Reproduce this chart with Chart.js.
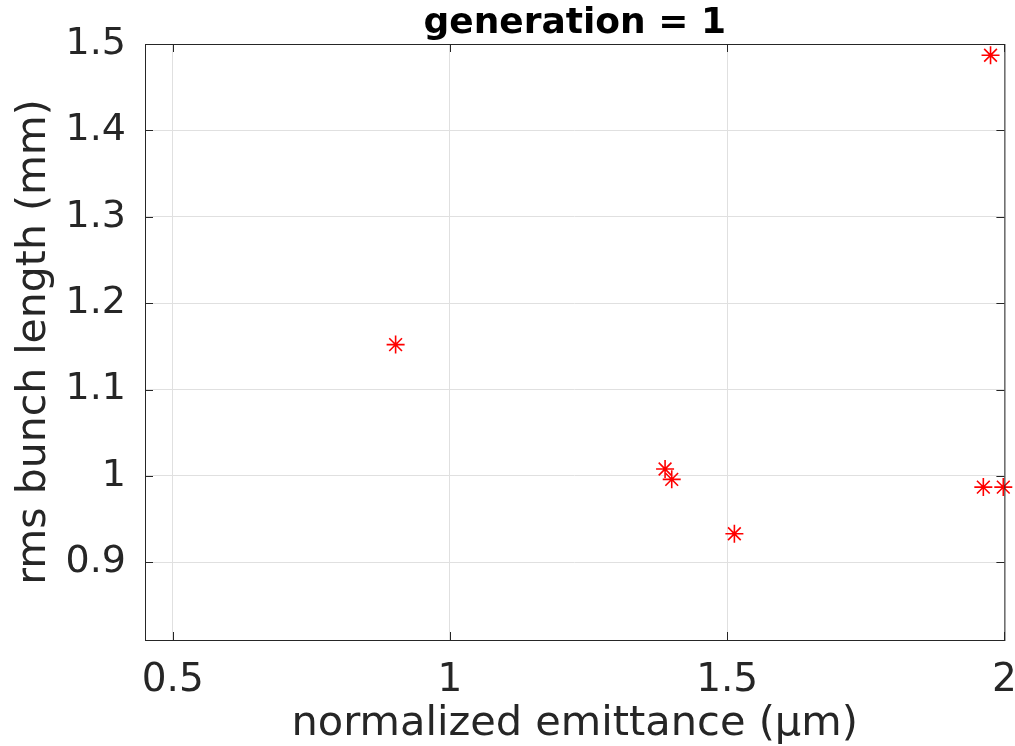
<!DOCTYPE html>
<html>
<head>
<meta charset="utf-8">
<script src="https://cdn.jsdelivr.net/npm/chart.js@4"></script>
<style>
  html, body { margin: 0; padding: 0; background: #fff; }
  #wrap { width: 1015px; height: 746px; }
</style>
</head>
<body>
<div id="wrap"><canvas id="myChart"></canvas></div>
<script>
// emittance (um) vs rms bunch length (mm), generation 1
const emittance = [0.902, 1.388, 1.400, 1.513, 1.962, 1.998, 1.975];
const bunchLength = [1.152, 1.008, 0.996, 0.933, 0.987, 0.987, 1.487];
const xTicks = [0.5, 1, 1.5, 2];
const yTicks = [0.9, 1, 1.1, 1.2, 1.3, 1.4, 1.5];

const axisColor = '#262626';

// box round the axes plus inward tick marks, matlab style
const boxPlugin = {
    id: 'box',
    afterDraw(chart) {
        const { ctx, chartArea: a, scales } = chart;
        ctx.save();
        ctx.strokeStyle = axisColor;
        ctx.lineWidth = 1;
        ctx.strokeRect(a.left + 0.5, a.top + 0.5, a.right - a.left, a.bottom - a.top);
        ctx.beginPath();
        const len = 8;
        xTicks.forEach(v => {
            const px = Math.round(scales.x.getPixelForValue(v)) + 0.5;
            ctx.moveTo(px, a.bottom); ctx.lineTo(px, a.bottom - len);
            ctx.moveTo(px, a.top); ctx.lineTo(px, a.top + len);
        });
        yTicks.forEach(v => {
            const py = Math.round(scales.y.getPixelForValue(v)) + 0.5;
            ctx.moveTo(a.left, py); ctx.lineTo(a.left + len, py);
            ctx.moveTo(a.right, py); ctx.lineTo(a.right - len, py);
        });
        ctx.stroke();
        ctx.restore();
    }
};

const data = {
    datasets: [
        {
            label: 'generation 1',
            data: emittance.map((x, i) => ({ x: x, y: bunchLength[i] })),
            pointStyle: 'star',
            pointRadius: 9,
            pointBorderWidth: 1.6,
            borderColor: '#ff0000',
            backgroundColor: '#ff0000',
            showLine: false,
            clip: false,
        }
    ]
};

const config = {
    type: 'scatter',
    data: data,
    plugins: [boxPlugin],
    options: {
        responsive: true,
        maintainAspectRatio: false,
        animation: false,
        layout: {
            padding: { left: 0, right: 9, top: 0, bottom: 0 }
        },
        plugins: {
            legend: { display: false },
            tooltip: { enabled: false },
            title: { display: false }
        },
        scales: {
            x: {
                type: 'linear',
                min: 0.45,
                max: 2.0,
                afterBuildTicks: (scale) => { scale.ticks = xTicks.map(v => ({ value: v })); },
                afterFit: (scale) => {
                    scale.height = 106;
                    scale.paddingRight = 0;
                    scale.paddingLeft = 0;
                },
                border: { display: false },
                grid: { color: '#e0e0e0', drawTicks: false, lineWidth: 1 },
                ticks: {
                    color: axisColor,
                    padding: 17,
                    maxRotation: 0,
                    font: { family: 'DejaVu Sans', size: 39 },
                    callback: (v) => String(v)
                },
                title: {
                    display: true,
                    text: 'normalized emittance (μm)',
                    color: axisColor,
                    font: { family: 'DejaVu Sans', size: 41.5, lineHeight: 1 },
                    padding: { top: 0, bottom: 1 }
                }
            },
            // top axis only carries the plot title, centred over the axes box
            xTop: {
                type: 'linear',
                position: 'top',
                min: 0.45,
                max: 2.0,
                afterFit: (scale) => {
                    scale.height = 44;
                    scale.paddingRight = 0;
                    scale.paddingLeft = 0;
                },
                border: { display: false },
                grid: { display: false, drawTicks: false },
                ticks: { display: false },
                title: {
                    display: true,
                    text: 'generation = 1',
                    color: '#000',
                    font: { family: 'DejaVu Sans', size: 36, weight: 'bold', lineHeight: 1 },
                    padding: { top: 6, bottom: 0 }
                }
            },
            y: {
                type: 'linear',
                min: 0.81,
                max: 1.5,
                afterBuildTicks: (scale) => { scale.ticks = yTicks.map(v => ({ value: v })); },
                afterFit: (scale) => { scale.width = 145; },
                border: { display: false },
                grid: { color: '#e0e0e0', drawTicks: false, lineWidth: 1 },
                ticks: {
                    color: axisColor,
                    padding: 19,
                    font: { family: 'DejaVu Sans', size: 38 },
                    callback: (v) => String(v)
                },
                title: {
                    display: true,
                    text: 'rms bunch length (mm)',
                    color: axisColor,
                    font: { family: 'DejaVu Sans', size: 41, lineHeight: 1 },
                    padding: { top: 14, bottom: 0 }
                }
            }
        }
    }
};

window.myChart = new Chart(document.getElementById('myChart'), config);
</script>
</body>
</html>
